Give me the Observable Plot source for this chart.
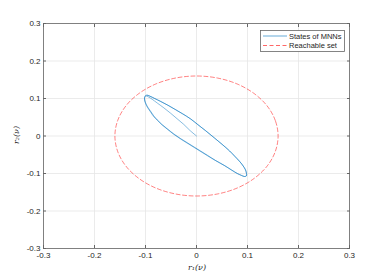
<!DOCTYPE html>
<html><head><meta charset="utf-8">
<script src="https://cdn.jsdelivr.net/npm/d3@7"></script>
<script src="https://cdn.jsdelivr.net/npm/@observablehq/plot@0.6"></script>
<style>
body{margin:0;background:#fff}
#chart{position:relative;width:369px;height:276px}
</style>
</head><body><div id="chart"></div>
<script>
const xTicks = [-0.3, -0.2, -0.1, 0, 0.1, 0.2, 0.3];
const yTicks = [-0.3, -0.2, -0.1, 0, 0.1, 0.2, 0.3];
const seriesNames = ["States of MNNs", "Reachable set"];
const axisLabelX = "r\u2081(\u03BD)";
const axisLabelY = "r\u2082(\u03BD)";

// States of MNNs trajectory: origin -> upper-left tip, then two loops
const stateX = [
  0, -0.013, -0.025, -0.038, -0.051, -0.064, -0.077, -0.087, -0.094, -0.099,
  -0.101, -0.102, -0.1, -0.096, -0.09, -0.084, -0.077, -0.068, -0.058, -0.045, -0.031, -0.018, -0.005, 0.008, 0.021, 0.037, 0.054, 0.068, 0.08, 0.088, 0.094,
  0.098, 0.098, 0.096, 0.09, 0.084, 0.075, 0.065, 0.05, 0.035, 0.018, 0.003, -0.012, -0.027, -0.042, -0.056, -0.07, -0.082, -0.091, -0.097,
  -0.101, -0.102, -0.1, -0.096, -0.09, -0.084, -0.076, -0.067, -0.057, -0.044, -0.03, -0.017, -0.004, 0.009, 0.022, 0.038, 0.055, 0.069, 0.08, 0.088, 0.094,
  0.098, 0.098, 0.096, 0.09, 0.084, 0.075, 0.065, 0.05, 0.035, 0.018, 0.003, -0.012, -0.027, -0.042, -0.056, -0.07, -0.082, -0.091, -0.097];
const stateY = [
  0, 0.015, 0.031, 0.046, 0.061, 0.075, 0.088, 0.098, 0.104, 0.107,
  0.106, 0.099, 0.089, 0.078, 0.066, 0.054, 0.043, 0.031, 0.02, 0.006, -0.007, -0.018, -0.029, -0.04, -0.051, -0.065, -0.078, -0.09, -0.1, -0.105, -0.108,
  -0.106, -0.1, -0.09, -0.077, -0.067, -0.054, -0.04, -0.022, -0.005, 0.014, 0.03, 0.046, 0.059, 0.071, 0.082, 0.092, 0.1, 0.106, 0.109,
  0.106, 0.098, 0.087, 0.076, 0.064, 0.052, 0.041, 0.029, 0.018, 0.004, -0.009, -0.02, -0.031, -0.042, -0.053, -0.066, -0.079, -0.091, -0.1, -0.105, -0.108,
  -0.106, -0.1, -0.09, -0.077, -0.067, -0.054, -0.04, -0.022, -0.005, 0.014, 0.03, 0.046, 0.059, 0.071, 0.082, 0.092, 0.1, 0.106, 0.109];

// Reachable set boundary
const setX = [0.16, 0.1545, 0.1386, 0.1131, 0.08, 0.0414, 0, -0.0414, -0.08, -0.1131, -0.1386, -0.1545,
  -0.16, -0.1545, -0.1386, -0.1131, -0.08, -0.0414, 0, 0.0414, 0.08, 0.1131, 0.1386, 0.1545];
const setY = [0, 0.0414, 0.08, 0.1131, 0.1386, 0.1545, 0.16, 0.1545, 0.1386, 0.1131, 0.08, 0.0414,
  0, -0.0414, -0.08, -0.1131, -0.1386, -0.1545, -0.16, -0.1545, -0.1386, -0.1131, -0.08, -0.0414];

const states = stateX.map((x, i) => ({x, y: stateY[i]}));
const reach = setX.map((x, i) => ({x, y: setY[i]}));

const blue = "#0072BD", red = "#FF0000";
const axisCol = "#666", textCol = "#262626";
const fmt = d => d === 0 ? "0" : String(d);

const plot = Plot.plot({
  width: 369, height: 276,
  marginLeft: 43, marginRight: 20, marginTop: 23, marginBottom: 28,
  style: {fontFamily: "'Liberation Sans', Arial, sans-serif", fontSize: "8px", color: textCol, background: "#fff"},
  x: {domain: [-0.3, 0.3]},
  y: {domain: [-0.3, 0.3]},
  marks: [
    Plot.gridX(xTicks, {stroke: "#e6e6e6", strokeOpacity: 1, strokeWidth: 0.8}),
    Plot.gridY(yTicks, {stroke: "#e6e6e6", strokeOpacity: 1, strokeWidth: 0.8}),
    Plot.line(reach, {x: "x", y: "y", curve: "catmull-rom-closed", stroke: red, strokeWidth: 0.7, strokeDasharray: "4,2.5", strokeOpacity: 0.7}),
    Plot.line(states, {x: "x", y: "y", curve: "catmull-rom", stroke: blue, strokeWidth: 0.6, strokeOpacity: 0.8}),
    Plot.frame({stroke: axisCol, strokeWidth: 0.8}),
    Plot.axisX(xTicks, {anchor: "bottom", tickSize: 0, tickPadding: 4, tickFormat: fmt, label: null}),
    Plot.axisY(yTicks, {anchor: "left", tickSize: 0, tickPadding: 3, tickFormat: fmt, label: null}),
    Plot.axisX(xTicks, {anchor: "bottom", tickSize: -3, tickFormat: () => "", label: null, stroke: axisCol}),
    Plot.axisX(xTicks, {anchor: "top", tickSize: -3, tickFormat: () => "", label: null, stroke: axisCol}),
    Plot.axisY(yTicks, {anchor: "left", tickSize: -3, tickFormat: () => "", label: null, stroke: axisCol}),
    Plot.axisY(yTicks, {anchor: "right", tickSize: -3, tickFormat: () => "", label: null, stroke: axisCol})
  ]
});

const svg = d3.select(plot);
const serif = "'DejaVu Serif', 'Liberation Serif', serif";
svg.append("text").attr("x", 197).attr("y", 270).attr("text-anchor", "middle")
  .attr("font-family", serif).attr("font-style", "italic").attr("font-size", 8).attr("fill", textCol).text(axisLabelX);
svg.append("text").attr("transform", "translate(19,135) rotate(-90)").attr("text-anchor", "middle")
  .attr("font-family", serif).attr("font-style", "italic").attr("font-size", 8).attr("fill", textCol).text(axisLabelY);

// legend
const lg = svg.append("g").attr("text-anchor", "start");
lg.append("rect").attr("x", 260.5).attr("y", 30.5).attr("width", 84).attr("height", 21)
  .attr("fill", "#fff").attr("stroke", axisCol).attr("stroke-width", 0.8);
const rows = [{name: seriesNames[0], color: blue, dash: null, y: 36}, {name: seriesNames[1], color: red, dash: "4,2.5", y: 45.5}];
rows.forEach(r => {
  const ln = lg.append("line").attr("x1", 263).attr("x2", 287).attr("y1", r.y).attr("y2", r.y)
    .attr("stroke", r.color).attr("stroke-width", 0.8).attr("stroke-opacity", 0.75);
  if (r.dash) ln.attr("stroke-dasharray", r.dash);
  lg.append("text").attr("x", 289).attr("y", r.y).attr("dy", "0.35em").attr("text-anchor", "start")
    .attr("font-family", "'Liberation Sans', Arial, sans-serif").attr("font-size", 7.5).attr("fill", textCol).text(r.name);
});

document.getElementById("chart").appendChild(plot);
</script>
</body></html>
